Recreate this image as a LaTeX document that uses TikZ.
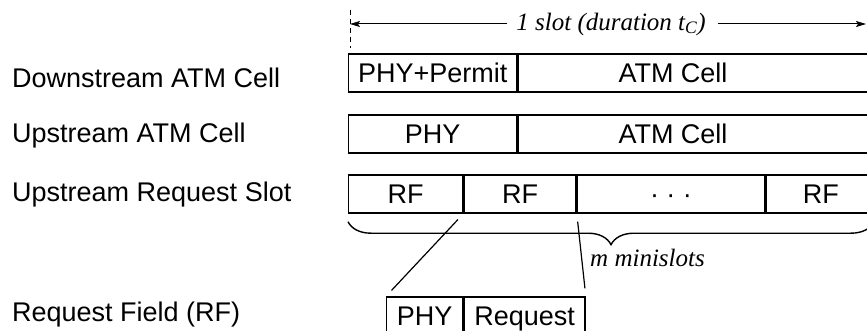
\documentclass[tikz,border=0pt]{standalone}
\usepackage{fontspec}
\setmainfont{Liberation Sans}
\newfontfamily\slotfont{Liberation Serif}
\usetikzlibrary{arrows.meta,decorations.pathreplacing}

\tikzset{
  celltext/.style={inner sep=0pt, text height=19.3pt, text depth=0pt,
    font=\fontsize{27}{32}\selectfont},
  cell/.style={celltext, draw, line width=1.4pt, anchor=west, minimum height=38pt},
  rowlabel/.style={anchor=base west, inner sep=0pt, font=\fontsize{27}{32}\selectfont},
  note/.style={inner sep=0pt, font=\slotfont\itshape\fontsize{25}{30}\selectfont},
  tip/.style={-{Stealth[length=10pt,width=6pt,inset=2pt]}, line width=1pt}
}

\begin{document}
\begin{tikzpicture}[x=1pt, y=-1pt]
\useasboundingbox (0,0) rectangle (867,331);
% Row labels
\node[rowlabel] (ldown) at (12,88) {Downstream ATM Cell};
\node[rowlabel] (lup) at (12,143) {Upstream ATM Cell};
\node[rowlabel] (lreq) at (12,202) {Upstream Request Slot};
\node[rowlabel] (lrf) at (12,321) {Request Field (RF)};
% Slot duration
\draw[dashed, dash pattern=on 5pt off 4pt, line width=1pt] (350,10) -- (350,48);
\coordinate (sleft) at (350,24);
\coordinate (sright) at (866,24);
\node[note] (slot) at (611,24) {1 slot (duration t\textsubscript{C})};
\draw[tip, shorten <=9pt] (slot.west) -- (sleft);
\draw[tip, shorten <=12pt] (slot.east) -- (sright);
% Downstream ATM cell
\node[cell, minimum width=168pt] (dphy) at (348,73) {PHY+Permit};
\node[cell, minimum width=360pt] (datm) at (dphy.east) {};
\node[celltext] (datmtext) at (673,73) {ATM Cell};
% Upstream ATM cell
\node[cell, minimum width=168pt] (uphy) at (348,134) {PHY};
\node[cell, minimum width=360pt] (uatm) at (uphy.east) {};
\node[celltext] (uatmtext) at (673,134) {ATM Cell};
% Upstream request slot
\node[cell, minimum width=114pt] (rf1) at (348,194) {RF};
\node[cell, minimum width=112pt] (rf2) at (rf1.east) {RF};
\node[cell, minimum width=187pt] (dots) at (rf2.east) {· · ·};
\node[cell, minimum width=110pt] (rf3) at (dots.east) {RF};
% Minislot brace
\draw[decorate, decoration={brace, mirror, amplitude=23pt}, line width=1.4pt]
  ([yshift=-8pt]rf1.south west) -- ++(526,0);
\node[note, anchor=base west] (mini) at (590,266) {m minislots};
% Request field
\node[cell, minimum width=76pt] (rfphy) at (386,316) {PHY};
\node[cell, minimum width=121pt] (rfreq) at (rfphy.east) {Request};
\draw[line width=1.2pt, shorten <=8pt, shorten >=8pt] (rf2.south west) -- (rfphy.north west);
\draw[line width=1.2pt, shorten <=8pt, shorten >=8pt] (rf2.south east) -- (rfreq.north east);
\end{tikzpicture}
\end{document}
